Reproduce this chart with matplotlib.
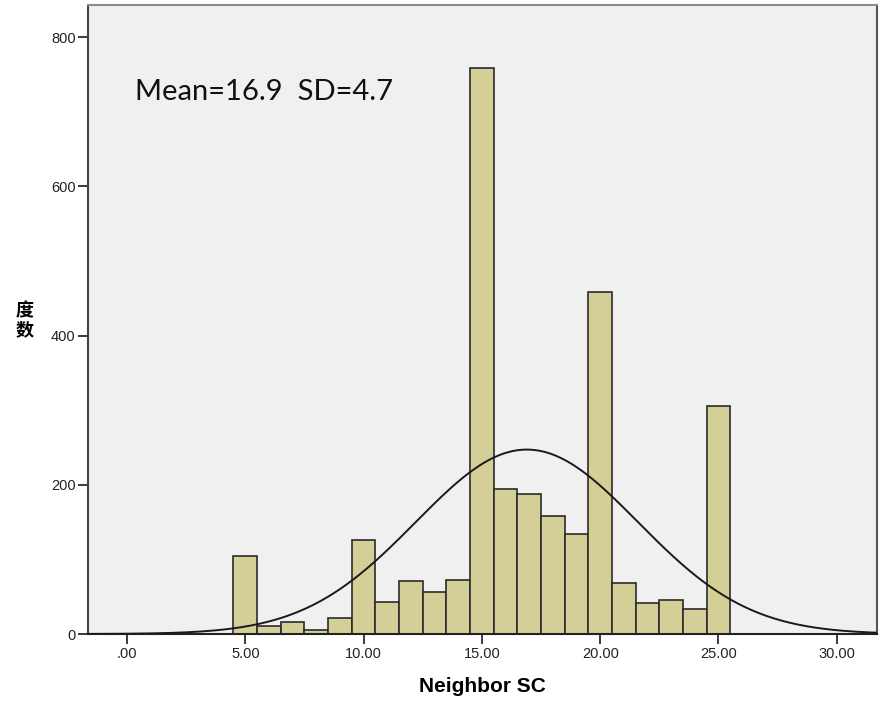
import numpy as np
import matplotlib.pyplot as plt

# Neighbor SC histogram with normal curve (SPSS style)

bin_centers = [5, 6, 7, 8, 9, 10, 11, 12, 13, 14, 15, 16, 17, 18, 19, 20, 21, 22, 23, 24, 25]
counts = [105, 11, 16, 5, 22, 126, 43, 71, 56, 72, 759, 194, 187, 158, 134, 458, 69, 42, 46, 33, 305]
mean_val = 16.9
sd_val = 4.7
bin_width = 1.0

xticks = [0, 5, 10, 15, 20, 25, 30]
xtick_labels = [".00", "5.00", "10.00", "15.00", "20.00", "25.00", "30.00"]
yticks = [0, 200, 400, 600, 800]

fig = plt.figure(figsize=(8.83, 7.01), dpi=100)
ax = fig.add_axes([88 / 883, 1 - 634 / 701, (877 - 88) / 883, (634 - 5) / 701])
ax.set_facecolor("#f0f0f0")

ax.bar(bin_centers, counts, width=bin_width, color="#d3cf97",
       edgecolor="#2b2b2b", linewidth=1.2, zorder=2)

# normal curve scaled to counts
n_total = sum(counts)
xs = np.linspace(-1.65, 31.7, 400)
ys = n_total * bin_width / (sd_val * np.sqrt(2 * np.pi)) * np.exp(-0.5 * ((xs - mean_val) / sd_val) ** 2)
ax.plot(xs, ys, color="#1a1a1a", linewidth=1.4, zorder=3)

ax.set_xlim(-1.65, 31.7)
ax.set_ylim(0, 843)
ax.set_xticks(xticks)
ax.set_xticklabels(xtick_labels)
ax.set_yticks(yticks)
ax.tick_params(direction="out", length=7, width=1.3, color="#2b2b2b",
               labelsize=10.5, labelcolor="#222222", pad=2)
for lab in ax.get_xticklabels() + ax.get_yticklabels():
    lab.set_family("Liberation Sans")

ax.spines["left"].set_color("#444444")
ax.spines["bottom"].set_color("#222222")
ax.spines["right"].set_color("#555555")
ax.spines["top"].set_color("#8c8c8c")
for s in ax.spines.values():
    s.set_linewidth(1.5)

ax.text((135 - 88) / (877 - 88), 1 - (92 - 5) / (634 - 5), "Mean=16.9  SD=4.7",
        transform=ax.transAxes, fontsize=21, family="Lato", color="#111111",
        ha="left", va="center")

ax.set_xlabel("Neighbor SC", fontsize=15, fontweight="bold",
              family="Liberation Sans", labelpad=12)
fig.text(25 / 883, 1 - 320 / 701, "度\n数", fontsize=13, fontweight="bold",
         family=["Noto Sans CJK SC", "DejaVu Sans"], ha="center", va="center",
         linespacing=1.0)

fig.savefig("out.png", dpi=100)
